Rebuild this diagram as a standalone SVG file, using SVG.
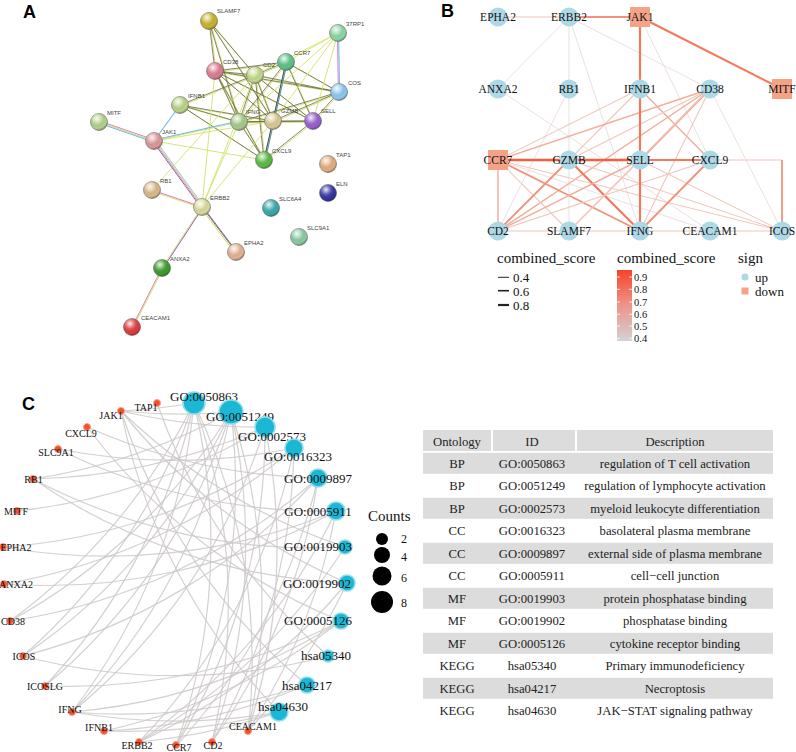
<svg xmlns="http://www.w3.org/2000/svg" xmlns:xlink="http://www.w3.org/1999/xlink" width="796" height="752" viewBox="0 0 796 752">
<style>
.plab{font-family:"Liberation Sans",Arial,sans-serif;font-weight:bold;font-size:18px;fill:#000}
.alab{font-family:"Liberation Sans",Arial,sans-serif;font-size:6px;fill:#444}
.ser{font-family:"Liberation Serif","Times New Roman",serif;fill:#111}
.blab{font-size:11.5px;text-anchor:middle}
.leg{font-size:13px}
.legs{font-size:10.5px}
.legt{font-size:15px}
.glab{font-size:10px;text-anchor:middle}
.tlab{font-size:13px;text-anchor:middle}
.tab{font-size:12.7px;text-anchor:middle;fill:#222}
.ball{stroke:#6a6a6a;stroke-width:0.6}
.b4{stroke:#e9dcdc;stroke-width:0.9}
.b5{stroke:#f0c6bc;stroke-width:1.1}
.b6{stroke:#f2ad9b;stroke-width:1.4}
.b7{stroke:#f3927a;stroke-width:1.8}
.b8{stroke:#f4785c;stroke-width:2.2}
.b9{stroke:#f55e3e;stroke-width:2.6}
.bup{fill:#add8e6}
.bdn{fill:#f4a386}
.carc{fill:none;stroke:#cdc8c8;stroke-width:1.2;stroke-opacity:0.85}
.gdot{fill:#f2502a;stroke:#f7a08a;stroke-width:1}
.tdot{fill:#1bb8d6;stroke:#8fdcec;stroke-width:1.5}
.band{fill:#dcdcdc}
.ay{stroke:#d2e268;stroke-width:0.9}
</style>
<defs>
<radialGradient id="shine" cx="0.38" cy="0.3" r="0.75">
<stop offset="0" stop-color="#fff" stop-opacity="0.9"/>
<stop offset="0.35" stop-color="#fff" stop-opacity="0.25"/>
<stop offset="0.75" stop-color="#000" stop-opacity="0"/>
<stop offset="1" stop-color="#000" stop-opacity="0.35"/>
</radialGradient>
<linearGradient id="cbar" x1="0" y1="0" x2="0" y2="1">
<stop offset="0" stop-color="#f6432a"/>
<stop offset="0.5" stop-color="#ee958a"/>
<stop offset="1" stop-color="#d2d2d2"/>
</linearGradient>
<g id="aDark">
<line x1="209" y1="21" x2="215" y2="71"/>
<line x1="209" y1="21" x2="239" y2="122"/>
<line x1="209" y1="21" x2="273" y2="121"/>
<line x1="209" y1="21" x2="255" y2="75"/>
<line x1="215" y1="71" x2="255" y2="75"/>
<line x1="215" y1="71" x2="286" y2="62"/>
<line x1="215" y1="71" x2="239" y2="122"/>
<line x1="215" y1="71" x2="273" y2="121"/>
<line x1="215" y1="71" x2="313" y2="121"/>
<line x1="215" y1="71" x2="339" y2="92"/>
<line x1="215" y1="71" x2="264" y2="160"/>
<line x1="255" y1="75" x2="286" y2="62"/>
<line x1="255" y1="75" x2="239" y2="122"/>
<line x1="255" y1="75" x2="273" y2="121"/>
<line x1="255" y1="75" x2="313" y2="121"/>
<line x1="255" y1="75" x2="264" y2="160"/>
<line x1="255" y1="75" x2="339" y2="92"/>
<line x1="286" y1="62" x2="339" y2="92"/>
<line x1="286" y1="62" x2="313" y2="121"/>
<line x1="286" y1="62" x2="273" y2="121"/>
<line x1="286" y1="62" x2="239" y2="122"/>
<line x1="339" y1="92" x2="273" y2="121"/>
<line x1="339" y1="92" x2="239" y2="122"/>
<line x1="339" y1="92" x2="313" y2="121"/>
<line x1="180" y1="105" x2="239" y2="122"/>
<line x1="180" y1="105" x2="273" y2="121"/>
<line x1="180" y1="105" x2="264" y2="160"/>
<line x1="180" y1="105" x2="255" y2="75"/>
<line x1="239" y1="122" x2="273" y2="121"/>
<line x1="239" y1="122" x2="313" y2="121"/>
<line x1="239" y1="122" x2="264" y2="160"/>
<line x1="273" y1="121" x2="313" y2="121"/>
<line x1="273" y1="121" x2="264" y2="160"/>
<line x1="313" y1="121" x2="264" y2="160"/>
<line x1="202" y1="207" x2="236" y2="252"/>
</g>
</defs>
<rect width="796" height="752" fill="#fff"/>

<!-- ============ PANEL A ============ -->
<text class="plab" x="23" y="18">A</text>
<g id="a-edges">
<use xlink:href="#aDark" stroke="#d2e268" stroke-width="0.9" transform="translate(1.1,0.9)"/>
<use xlink:href="#aDark" stroke="#66664a" stroke-width="0.8"/>
<g class="ay">
<line x1="338" y1="33" x2="286" y2="62"/>
<line x1="338" y1="33" x2="255" y2="75"/>
<line x1="338" y1="33" x2="313" y2="121"/>
<line x1="338" y1="33" x2="273" y2="121"/>
<line x1="338" y1="33" x2="239" y2="122"/>
<line x1="154" y1="141" x2="264" y2="160"/>
<line x1="154" y1="141" x2="273" y2="121"/>
<line x1="154" y1="141" x2="239" y2="122"/>
<line x1="202" y1="207" x2="215" y2="71"/>
<line x1="202" y1="207" x2="255" y2="75"/>
<line x1="202" y1="207" x2="273" y2="121"/>
<line x1="152" y1="190" x2="255" y2="75"/>
<line x1="202" y1="207" x2="239" y2="122"/>
</g>
<line x1="154" y1="140" x2="239" y2="121" stroke="#6fb8e8" stroke-width="1"/>
<line x1="180" y1="105" x2="154" y2="141" stroke="#6fb8e8" stroke-width="1.1"/>
<line x1="286" y1="62" x2="264" y2="160" stroke="#4a4a30" stroke-width="0.8"/>
<line x1="287.2" y1="62" x2="265.2" y2="160" stroke="#4a90d0" stroke-width="1"/>
<line x1="99" y1="120.8" x2="154" y2="139.8" stroke="#e080c8" stroke-width="1"/>
<line x1="99" y1="122" x2="154" y2="141" stroke="#cfe05a" stroke-width="1"/>
<line x1="99" y1="123.2" x2="154" y2="142.2" stroke="#6fb8e8" stroke-width="1"/>
<line x1="152.6" y1="141" x2="200.6" y2="207" stroke="#9060c0" stroke-width="1"/>
<line x1="153.8" y1="141" x2="201.8" y2="207" stroke="#e080c8" stroke-width="1"/>
<line x1="155" y1="141" x2="203" y2="207" stroke="#cfe05a" stroke-width="1"/>
<line x1="156.2" y1="141" x2="204.2" y2="207" stroke="#9fc8e8" stroke-width="1"/>
<line x1="152" y1="190" x2="202" y2="207" stroke="#e080c8" stroke-width="1.1"/>
<line x1="152" y1="191.2" x2="202" y2="208.2" stroke="#cfe05a" stroke-width="0.9"/>
<line x1="203" y1="207" x2="237" y2="252" stroke="#9060c0" stroke-width="1"/>
<line x1="200.8" y1="207.8" x2="234.8" y2="252.8" stroke="#cfe05a" stroke-width="1"/>
<line x1="202" y1="207" x2="162" y2="268" stroke="#cfe05a" stroke-width="1"/>
<line x1="203.2" y1="207" x2="163.2" y2="268" stroke="#9060c0" stroke-width="1"/>
<line x1="162" y1="268" x2="132" y2="327" stroke="#e080c8" stroke-width="1"/>
<line x1="163.2" y1="268" x2="133.2" y2="327" stroke="#cfe05a" stroke-width="1"/>
<line x1="337.4" y1="33" x2="338.4" y2="92" stroke="#e080c8" stroke-width="1"/>
<line x1="338.6" y1="33" x2="339.6" y2="92" stroke="#6fb8e8" stroke-width="1"/>
</g>
<g id="a-SLAMF7"><circle class="ball" cx="209" cy="21" r="8.5" fill="#cab52e"/><circle cx="209" cy="21" r="8.5" fill="url(#shine)"/><text class="alab" x="217" y="13">SLAMF7</text></g>
<g id="a-37RP1"><circle class="ball" cx="338" cy="33" r="8.5" fill="#8fd8a4"/><circle cx="338" cy="33" r="8.5" fill="url(#shine)"/><text class="alab" x="346" y="26">37RP1</text></g>
<g id="a-CCR7"><circle class="ball" cx="286" cy="62" r="8.5" fill="#5cc48a"/><circle cx="286" cy="62" r="8.5" fill="url(#shine)"/><text class="alab" x="294" y="55">CCR7</text></g>
<g id="a-CD38"><circle class="ball" cx="215" cy="71" r="8.5" fill="#e07c92"/><circle cx="215" cy="71" r="8.5" fill="url(#shine)"/><text class="alab" x="223" y="64">CD38</text></g>
<g id="a-CD2"><circle class="ball" cx="255" cy="75" r="8.5" fill="#c4dc8a"/><circle cx="255" cy="75" r="8.5" fill="url(#shine)"/><text class="alab" x="263" y="67">CD2</text></g>
<g id="a-COS"><circle class="ball" cx="339" cy="92" r="8.5" fill="#8ecaf0"/><circle cx="339" cy="92" r="8.5" fill="url(#shine)"/><text class="alab" x="348" y="85">COS</text></g>
<g id="a-IFNB1"><circle class="ball" cx="180" cy="105" r="8.5" fill="#bcd68a"/><circle cx="180" cy="105" r="8.5" fill="url(#shine)"/><text class="alab" x="188" y="98">IFNB1</text></g>
<g id="a-MITF"><circle class="ball" cx="99" cy="122" r="8.5" fill="#b4d48a"/><circle cx="99" cy="122" r="8.5" fill="url(#shine)"/><text class="alab" x="107" y="115">MITF</text></g>
<g id="a-IFNG"><circle class="ball" cx="239" cy="122" r="8.5" fill="#a6cc8a"/><circle cx="239" cy="122" r="8.5" fill="url(#shine)"/><text class="alab" x="246" y="114">IFNG</text></g>
<g id="a-GZMB"><circle class="ball" cx="273" cy="121" r="8.5" fill="#dccb98"/><circle cx="273" cy="121" r="8.5" fill="url(#shine)"/><text class="alab" x="281" y="113">GZMB</text></g>
<g id="a-SELL"><circle class="ball" cx="313" cy="121" r="8.5" fill="#9a5ed2"/><circle cx="313" cy="121" r="8.5" fill="url(#shine)"/><text class="alab" x="321" y="113">SELL</text></g>
<g id="a-JAK1"><circle class="ball" cx="154" cy="141" r="8.5" fill="#e0999a"/><circle cx="154" cy="141" r="8.5" fill="url(#shine)"/><text class="alab" x="162" y="134">JAK1</text></g>
<g id="a-CXCL9"><circle class="ball" cx="264" cy="160" r="8.5" fill="#5cbc44"/><circle cx="264" cy="160" r="8.5" fill="url(#shine)"/><text class="alab" x="272" y="153">CXCL9</text></g>
<g id="a-TAP1"><circle class="ball" cx="328" cy="164" r="8.5" fill="#e6b080"/><circle cx="328" cy="164" r="8.5" fill="url(#shine)"/><text class="alab" x="336" y="157">TAP1</text></g>
<g id="a-RB1"><circle class="ball" cx="152" cy="190" r="8.5" fill="#dcbc8a"/><circle cx="152" cy="190" r="8.5" fill="url(#shine)"/><text class="alab" x="160" y="183">RB1</text></g>
<g id="a-ELN"><circle class="ball" cx="328" cy="193" r="8.5" fill="#3434a0"/><circle cx="328" cy="193" r="8.5" fill="url(#shine)"/><text class="alab" x="336" y="186">ELN</text></g>
<g id="a-ERBB2"><circle class="ball" cx="202" cy="207" r="8.5" fill="#dcdc9c"/><circle cx="202" cy="207" r="8.5" fill="url(#shine)"/><text class="alab" x="210" y="200">ERBB2</text></g>
<g id="a-SLC6A4"><circle class="ball" cx="271" cy="208" r="8.5" fill="#38aaac"/><circle cx="271" cy="208" r="8.5" fill="url(#shine)"/><text class="alab" x="279" y="201">SLC6A4</text></g>
<g id="a-SLC9A1"><circle class="ball" cx="299" cy="237" r="8.5" fill="#8ccca4"/><circle cx="299" cy="237" r="8.5" fill="url(#shine)"/><text class="alab" x="307" y="230">SLC9A1</text></g>
<g id="a-EPHA2"><circle class="ball" cx="236" cy="252" r="8.5" fill="#e6b494"/><circle cx="236" cy="252" r="8.5" fill="url(#shine)"/><text class="alab" x="244" y="245">EPHA2</text></g>
<g id="a-ANXA2"><circle class="ball" cx="162" cy="268" r="8.5" fill="#3e9c2c"/><circle cx="162" cy="268" r="8.5" fill="url(#shine)"/><text class="alab" x="170" y="261" font-size="4.5">ANXA2</text></g>
<g id="a-CEACAM1"><circle class="ball" cx="132" cy="327" r="8.5" fill="#de3c3c"/><circle cx="132" cy="327" r="8.5" fill="url(#shine)"/><text class="alab" x="141" y="320">CEACAM1</text></g>

<!-- ============ PANEL B ============ -->
<text class="plab" x="441" y="17">B</text>
<g id="b-edges">
<line class="b5" x1="498" y1="17" x2="569" y2="17"/>
<line class="b7" x1="569" y1="17" x2="640" y2="17"/>
<line class="b8" x1="640" y1="17" x2="782" y2="89"/>
<line class="b4" x1="569" y1="17" x2="569" y2="89"/>
<line class="b4" x1="569" y1="17" x2="498" y2="89"/>
<line class="b4" x1="569" y1="17" x2="640" y2="231"/>
<line class="b4" x1="569" y1="17" x2="710" y2="89"/>
<line class="b4" x1="640" y1="17" x2="710" y2="160"/>
<line class="b4" x1="498" y1="89" x2="710" y2="231"/>
<line class="b4" x1="569" y1="89" x2="569" y2="231"/>
<line class="b4" x1="569" y1="89" x2="498" y2="231"/>
<line class="b4" x1="782" y1="231" x2="710" y2="89"/>
<line class="b4" x1="498" y1="160" x2="710" y2="231"/>
<line class="b5" x1="640" y1="89" x2="498" y2="160"/>
<line class="b6" x1="640" y1="89" x2="710" y2="160"/>
<line class="b5" x1="640" y1="89" x2="498" y2="231"/>
<line class="b6" x1="710" y1="89" x2="498" y2="160"/>
<line class="b5" x1="710" y1="89" x2="569" y2="160"/>
<line class="b7" x1="710" y1="89" x2="640" y2="160"/>
<line class="b6" x1="710" y1="89" x2="498" y2="231"/>
<line class="b5" x1="710" y1="89" x2="569" y2="231"/>
<line class="b5" x1="710" y1="89" x2="640" y2="231"/>
<line class="b5" x1="710" y1="160" x2="782" y2="160"/>
<line class="b7" x1="782" y1="160" x2="782" y2="231"/>
<line class="b6" x1="498" y1="160" x2="498" y2="231"/>
<line class="b7" x1="498" y1="160" x2="640" y2="231"/>
<line class="b5" x1="498" y1="160" x2="569" y2="231"/>
<line class="b5" x1="498" y1="160" x2="782" y2="231"/>
<line class="b7" x1="569" y1="160" x2="498" y2="231"/>
<line class="b8" x1="569" y1="160" x2="640" y2="231"/>
<line class="b5" x1="569" y1="160" x2="782" y2="231"/>
<line class="b6" x1="640" y1="160" x2="498" y2="231"/>
<line class="b5" x1="640" y1="160" x2="569" y2="231"/>
<line class="b5" x1="640" y1="160" x2="782" y2="231"/>
<line class="b7" x1="710" y1="160" x2="640" y2="231"/>
<line class="b5" x1="710" y1="160" x2="498" y2="231"/>
<line class="b5" x1="498" y1="231" x2="782" y2="231"/>
<line class="b9" x1="498" y1="160" x2="569" y2="160"/>
<line class="b9" x1="569" y1="160" x2="640" y2="160"/>
<line class="b8" x1="640" y1="160" x2="710" y2="160"/>
<line class="b8" x1="640" y1="17" x2="640" y2="231"/>
</g>
<g class="ser">
<g id="b-EPHA2"><circle class="bup" cx="498" cy="17" r="9.5"/><text class="blab" x="498" y="21">EPHA2</text></g>
<g id="b-ERBB2"><circle class="bup" cx="569" cy="17" r="9.5"/><text class="blab" x="569" y="21">ERBB2</text></g>
<g id="b-JAK1"><rect class="bdn" x="630" y="7" width="20" height="20"/><text class="blab" x="640" y="21">JAK1</text></g>
<g id="b-ANXA2"><circle class="bup" cx="498" cy="89" r="9.5"/><text class="blab" x="498" y="93">ANXA2</text></g>
<g id="b-RB1"><circle class="bup" cx="569" cy="89" r="9.5"/><text class="blab" x="569" y="93">RB1</text></g>
<g id="b-IFNB1"><circle class="bup" cx="640" cy="89" r="9.5"/><text class="blab" x="640" y="93">IFNB1</text></g>
<g id="b-CD38"><circle class="bup" cx="710" cy="89" r="9.5"/><text class="blab" x="710" y="93">CD38</text></g>
<g id="b-MITF"><rect class="bdn" x="772" y="79" width="20" height="20"/><text class="blab" x="782" y="93">MITF</text></g>
<g id="b-CCR7"><rect class="bdn" x="488" y="150" width="20" height="20"/><text class="blab" x="498" y="164">CCR7</text></g>
<g id="b-GZMB"><circle class="bup" cx="569" cy="160" r="9.5"/><text class="blab" x="569" y="164">GZMB</text></g>
<g id="b-SELL"><circle class="bup" cx="640" cy="160" r="9.5"/><text class="blab" x="640" y="164">SELL</text></g>
<g id="b-CXCL9"><circle class="bup" cx="710" cy="160" r="9.5"/><text class="blab" x="710" y="164">CXCL9</text></g>
<g id="b-CD2"><circle class="bup" cx="498" cy="231" r="9.5"/><text class="blab" x="498" y="235">CD2</text></g>
<g id="b-SLAMF7"><circle class="bup" cx="569" cy="231" r="9.5"/><text class="blab" x="569" y="235">SLAMF7</text></g>
<g id="b-IFNG"><circle class="bup" cx="640" cy="231" r="9.5"/><text class="blab" x="640" y="235">IFNG</text></g>
<g id="b-CEACAM1"><circle class="bup" cx="710" cy="231" r="9.5"/><text class="blab" x="710" y="235">CEACAM1</text></g>
<g id="b-ICOS"><circle class="bup" cx="782" cy="231" r="9.5"/><text class="blab" x="782" y="235">ICOS</text></g>
</g>
<g id="b-legend" class="ser">
<text class="legt" x="497" y="263">combined_score</text>
<line x1="498" y1="277.3" x2="509" y2="277.3" stroke="#222" stroke-width="1"/>
<line x1="498" y1="290.7" x2="509" y2="290.7" stroke="#222" stroke-width="1.6"/>
<line x1="498" y1="305" x2="509" y2="305" stroke="#222" stroke-width="2.2"/>
<text class="leg" x="513" y="282">0.4</text>
<text class="leg" x="513" y="295.5">0.6</text>
<text class="leg" x="513" y="309.5">0.8</text>
<text class="legt" x="617" y="263">combined_score</text>
<rect x="617" y="270" width="15" height="71" fill="url(#cbar)"/>
<g stroke="#fff" stroke-width="0.8">
<line x1="617" y1="277" x2="620" y2="277"/><line x1="629" y1="277" x2="632" y2="277"/>
<line x1="617" y1="289.3" x2="620" y2="289.3"/><line x1="629" y1="289.3" x2="632" y2="289.3"/>
<line x1="617" y1="302" x2="620" y2="302"/><line x1="629" y1="302" x2="632" y2="302"/>
<line x1="617" y1="314.3" x2="620" y2="314.3"/><line x1="629" y1="314.3" x2="632" y2="314.3"/>
<line x1="617" y1="326" x2="620" y2="326"/><line x1="629" y1="326" x2="632" y2="326"/>
<line x1="617" y1="338.3" x2="620" y2="338.3"/><line x1="629" y1="338.3" x2="632" y2="338.3"/>
</g>
<text class="legs" x="634" y="280.8">0.9</text>
<text class="legs" x="634" y="293.1">0.8</text>
<text class="legs" x="634" y="305.8">0.7</text>
<text class="legs" x="634" y="318.1">0.6</text>
<text class="legs" x="634" y="329.8">0.5</text>
<text class="legs" x="634" y="342.1">0.4</text>
<text class="legt" x="738" y="263">sign</text>
<circle class="bup" cx="745" cy="277" r="3.6"/>
<rect class="bdn" x="741.5" y="287.5" width="7" height="7"/>
<text class="leg" x="755" y="281.5">up</text>
<text class="leg" x="755" y="295.5">down</text>
</g>

<!-- ============ PANEL C ============ -->
<text class="plab" x="22" y="410">C</text>
<g id="c-edges" class="carc">
<path d="M176,746 A600,600 0 0 0 194,403"/>
<path d="M23,656 A600,600 0 0 0 194,403"/>
<path d="M45,686 A600,600 0 0 0 194,403"/>
<path d="M248,731 A600,600 0 0 0 194,403"/>
<path d="M212,742 A600,600 0 0 0 194,403"/>
<path d="M72,712 A600,600 0 0 0 194,403"/>
<path d="M121,411 A600,600 0 0 0 194,403"/>
<path d="M10,621 A600,600 0 0 0 194,403"/>
<path d="M176,746 A600,600 0 0 0 231,412"/>
<path d="M23,656 A600,600 0 0 0 231,412"/>
<path d="M45,686 A600,600 0 0 0 231,412"/>
<path d="M248,731 A600,600 0 0 0 231,412"/>
<path d="M212,742 A600,600 0 0 0 231,412"/>
<path d="M72,712 A600,600 0 0 0 231,412"/>
<path d="M121,411 A600,600 0 0 0 231,412"/>
<path d="M10,621 A600,600 0 0 0 231,412"/>
<path d="M33,479 A600,600 0 0 0 231,412"/>
<path d="M17,511 A600,600 0 0 0 265,427"/>
<path d="M33,479 A600,600 0 0 0 265,427"/>
<path d="M72,712 A600,600 0 0 0 265,427"/>
<path d="M248,731 A600,600 0 0 0 265,427"/>
<path d="M176,746 A600,600 0 0 0 265,427"/>
<path d="M121,411 A600,600 0 0 0 265,427"/>
<path d="M58,449 A600,600 0 0 0 294,448"/>
<path d="M139,742 A600,600 0 0 0 294,448"/>
<path d="M3,547 A600,600 0 0 0 294,448"/>
<path d="M4,584 A600,600 0 0 0 294,448"/>
<path d="M212,742 A600,600 0 0 0 294,448"/>
<path d="M176,746 A600,600 0 0 0 318,478"/>
<path d="M212,742 A600,600 0 0 0 318,478"/>
<path d="M10,621 A600,600 0 0 0 318,478"/>
<path d="M23,656 A600,600 0 0 0 318,478"/>
<path d="M87,427 A600,600 0 0 0 318,478"/>
<path d="M139,742 A600,600 0 0 0 336,511"/>
<path d="M3,547 A600,600 0 0 0 336,511"/>
<path d="M4,584 A600,600 0 0 0 336,511"/>
<path d="M248,731 A600,600 0 0 0 336,511"/>
<path d="M58,449 A600,600 0 0 0 336,511"/>
<path d="M121,411 A600,600 0 0 0 345,547"/>
<path d="M139,742 A600,600 0 0 0 345,547"/>
<path d="M33,479 A600,600 0 0 0 345,547"/>
<path d="M121,411 A600,600 0 0 0 347,583"/>
<path d="M139,742 A600,600 0 0 0 347,583"/>
<path d="M33,479 A600,600 0 0 0 347,583"/>
<path d="M248,731 A600,600 0 0 0 347,583"/>
<path d="M72,712 A600,600 0 0 0 341,621"/>
<path d="M104,731 A600,600 0 0 0 341,621"/>
<path d="M87,427 A600,600 0 0 0 341,621"/>
<path d="M45,686 A600,600 0 0 0 341,621"/>
<path d="M23,656 A600,600 0 0 0 328,656"/>
<path d="M157,403 A600,600 0 0 0 328,656"/>
<path d="M121,411 A600,600 0 0 0 307,685"/>
<path d="M72,712 A600,600 0 0 0 307,685"/>
<path d="M104,731 A600,600 0 0 0 307,685"/>
<path d="M121,411 A600,600 0 0 0 279,712"/>
<path d="M72,712 A600,600 0 0 0 279,712"/>
<path d="M104,731 A600,600 0 0 0 279,712"/>
<path d="M139,742 A600,600 0 0 0 279,712"/>
</g>
<g class="ser">
<g id="c-TAP1"><circle class="gdot" cx="157" cy="403" r="3.5"/><text class="glab" x="146" y="411">TAP1</text></g>
<g id="c-JAK1"><circle class="gdot" cx="121" cy="411" r="3.5"/><text class="glab" x="111" y="419">JAK1</text></g>
<g id="c-CXCL9"><circle class="gdot" cx="87" cy="427" r="3.5"/><text class="glab" x="81" y="437">CXCL9</text></g>
<g id="c-SLC9A1"><circle class="gdot" cx="58" cy="449" r="3.5"/><text class="glab" x="56" y="456">SLC9A1</text></g>
<g id="c-RB1"><circle class="gdot" cx="33" cy="479" r="3.5"/><text class="glab" x="33.5" y="482.5">RB1</text></g>
<g id="c-MITF"><circle class="gdot" cx="17" cy="511" r="3.5"/><text class="glab" x="16" y="515">MITF</text></g>
<g id="c-EPHA2"><circle class="gdot" cx="3" cy="547" r="3.5"/><text class="glab" x="16" y="551">EPHA2</text></g>
<g id="c-ANXA2"><circle class="gdot" cx="4" cy="584" r="3.5"/><text class="glab" x="16" y="588">ANXA2</text></g>
<g id="c-CD38"><circle class="gdot" cx="10" cy="621" r="3.5"/><text class="glab" x="13" y="625">CD38</text></g>
<g id="c-ICOS"><circle class="gdot" cx="23" cy="656" r="3.5"/><text class="glab" x="24" y="660">ICOS</text></g>
<g id="c-ICOSLG"><circle class="gdot" cx="45" cy="686" r="3.5"/><text class="glab" x="45" y="690">ICOSLG</text></g>
<g id="c-IFNG"><circle class="gdot" cx="72" cy="712" r="3.5"/><text class="glab" x="70" y="713">IFNG</text></g>
<g id="c-IFNB1"><circle class="gdot" cx="104" cy="731" r="3.5"/><text class="glab" x="99" y="731">IFNB1</text></g>
<g id="c-ERBB2"><circle class="gdot" cx="139" cy="742" r="3.5"/><text class="glab" x="137" y="749">ERBB2</text></g>
<g id="c-CCR7"><circle class="gdot" cx="176" cy="745" r="3.5"/><text class="glab" x="179" y="751">CCR7</text></g>
<g id="c-CD2"><circle class="gdot" cx="212" cy="742" r="3.5"/><text class="glab" x="213" y="749">CD2</text></g>
<g id="c-CEACAM1"><circle class="gdot" cx="248" cy="731" r="3.5"/><text class="glab" x="253" y="730">CEACAM1</text></g>
<g id="c-GO0050863"><circle class="tdot" cx="194" cy="403" r="11"/><text class="tlab" x="204" y="401">GO:0050863</text></g>
<g id="c-GO0051249"><circle class="tdot" cx="231" cy="412" r="12"/><text class="tlab" x="240" y="421">GO:0051249</text></g>
<g id="c-GO0002573"><circle class="tdot" cx="265" cy="427" r="10"/><text class="tlab" x="272" y="441">GO:0002573</text></g>
<g id="c-GO0016323"><circle class="tdot" cx="294" cy="448" r="9"/><text class="tlab" x="298" y="461">GO:0016323</text></g>
<g id="c-GO0009897"><circle class="tdot" cx="318" cy="478" r="9"/><text class="tlab" x="318" y="483">GO:0009897</text></g>
<g id="c-GO0005911"><circle class="tdot" cx="336" cy="511" r="9"/><text class="tlab" x="318" y="516">GO:0005911</text></g>
<g id="c-GO0019903"><circle class="tdot" cx="345" cy="547" r="7"/><text class="tlab" x="318" y="551">GO:0019903</text></g>
<g id="c-GO0019902"><circle class="tdot" cx="347" cy="583" r="8"/><text class="tlab" x="317" y="588">GO:0019902</text></g>
<g id="c-GO0005126"><circle class="tdot" cx="341" cy="621" r="8"/><text class="tlab" x="318" y="625">GO:0005126</text></g>
<g id="c-hsa05340"><circle class="tdot" cx="328" cy="656" r="6"/><text class="tlab" x="326" y="660">hsa05340</text></g>
<g id="c-hsa04217"><circle class="tdot" cx="307" cy="685" r="8"/><text class="tlab" x="307" y="690">hsa04217</text></g>
<g id="c-hsa04630"><circle class="tdot" cx="279" cy="712" r="9"/><text class="tlab" x="283" y="711">hsa04630</text></g>
</g>
<g id="c-legend" class="ser">
<text x="368" y="521" font-size="15">Counts</text>
<circle cx="382" cy="539" r="6" fill="#000"/>
<circle cx="382" cy="555" r="8" fill="#000"/>
<circle cx="382" cy="576" r="9.5" fill="#000"/>
<circle cx="382" cy="602" r="11" fill="#000"/>
<text x="401" y="543" font-size="12">2</text>
<text x="401" y="561" font-size="12">4</text>
<text x="401" y="582" font-size="12">6</text>
<text x="401" y="607" font-size="12">8</text>
</g>

<!-- ============ TABLE ============ -->
<g id="table" class="ser">
<rect class="band" x="423" y="430" width="68" height="21"/>
<rect class="band" x="493" y="430" width="82" height="21"/>
<rect class="band" x="577" y="430" width="196" height="21"/>
<rect class="band" x="423" y="452.8" width="350" height="21"/>
<rect class="band" x="423" y="497.8" width="350" height="21"/>
<rect class="band" x="423" y="542.8" width="350" height="21"/>
<rect class="band" x="423" y="587.8" width="350" height="21"/>
<rect class="band" x="423" y="632.8" width="350" height="21"/>
<rect class="band" x="423" y="677.8" width="350" height="21"/>
<text class="tab" x="457" y="446">Ontology</text><text class="tab" x="532" y="446">ID</text><text class="tab" x="675" y="446">Description</text>
<text class="tab" x="457" y="467.8">BP</text><text class="tab" x="532" y="467.8">GO:0050863</text><text class="tab" x="675" y="467.8">regulation of T cell activation</text>
<text class="tab" x="457" y="490.3">BP</text><text class="tab" x="532" y="490.3">GO:0051249</text><text class="tab" x="675" y="490.3">regulation of lymphocyte activation</text>
<text class="tab" x="457" y="512.8">BP</text><text class="tab" x="532" y="512.8">GO:0002573</text><text class="tab" x="675" y="512.8">myeloid leukocyte differentiation</text>
<text class="tab" x="457" y="535.3">CC</text><text class="tab" x="532" y="535.3">GO:0016323</text><text class="tab" x="675" y="535.3">basolateral plasma membrane</text>
<text class="tab" x="457" y="557.8">CC</text><text class="tab" x="532" y="557.8">GO:0009897</text><text class="tab" x="675" y="557.8">external side of plasma membrane</text>
<text class="tab" x="457" y="580.3">CC</text><text class="tab" x="532" y="580.3">GO:0005911</text><text class="tab" x="675" y="580.3">cell−cell junction</text>
<text class="tab" x="457" y="602.8">MF</text><text class="tab" x="532" y="602.8">GO:0019903</text><text class="tab" x="675" y="602.8">protein phosphatase binding</text>
<text class="tab" x="457" y="625.3">MF</text><text class="tab" x="532" y="625.3">GO:0019902</text><text class="tab" x="675" y="625.3">phosphatase binding</text>
<text class="tab" x="457" y="647.8">MF</text><text class="tab" x="532" y="647.8">GO:0005126</text><text class="tab" x="675" y="647.8">cytokine receptor binding</text>
<text class="tab" x="457" y="670.3">KEGG</text><text class="tab" x="532" y="670.3">hsa05340</text><text class="tab" x="675" y="670.3">Primary immunodeficiency</text>
<text class="tab" x="457" y="692.8">KEGG</text><text class="tab" x="532" y="692.8">hsa04217</text><text class="tab" x="675" y="692.8">Necroptosis</text>
<text class="tab" x="457" y="715.3">KEGG</text><text class="tab" x="532" y="715.3">hsa04630</text><text class="tab" x="675" y="715.3">JAK−STAT signaling pathway</text>
</g>
</svg>
